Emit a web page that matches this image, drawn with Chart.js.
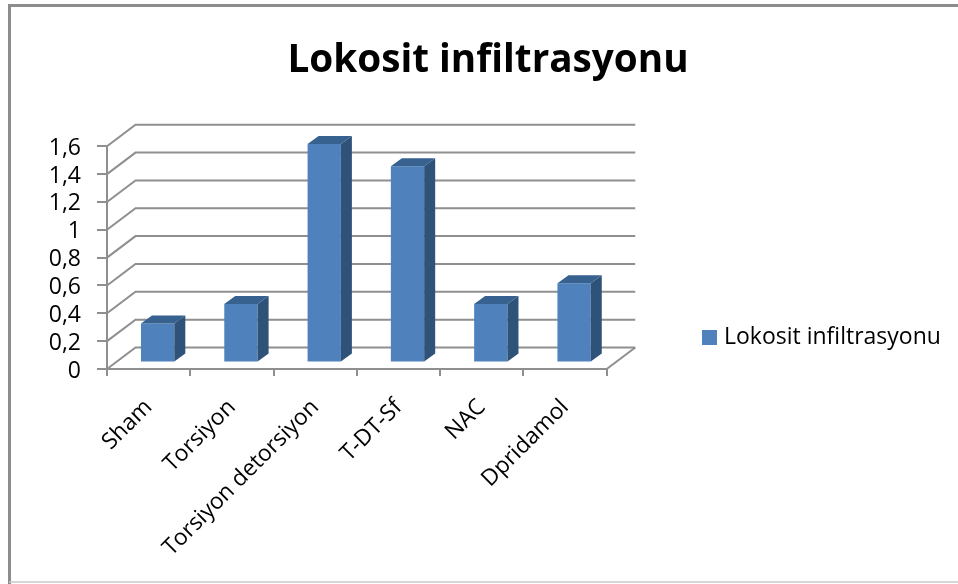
<!DOCTYPE html>
<html><head><meta charset="utf-8">
<style>html,body{margin:0;padding:0;background:#fff}canvas{display:block}</style>
<script src="https://cdn.jsdelivr.net/npm/chart.js@4"></script>
</head><body><canvas id="c" width="958" height="584"></canvas>
<script>
const categories = ["Sham","Torsiyon","Torsiyon detorsiyon","T-DT-Sf","NAC","Dpridamol"];
const values = [0.28,0.42,1.57,1.41,0.42,0.57];
const seriesName = "Lokosit infiltrasyonu";
const yTickValues = [0,0.2,0.4,0.6,0.8,1,1.2,1.4,1.6];
const yTickLabels = ["0","0,2","0,4","0,6","0,8","1","1,2","1,4","1,6"];
const GRID="#8f8f8f", FRONT="#4F81BD", SIDE="#2F5279", TOP="#37618F";
const WALL={dx:28.5,dy:21.5}, BAR={dx:9,dy:-6.5}, DEPTH={dx:11,dy:8};
const FONT="'Open Sans'";
const scene={
  id:'scene',
  beforeDraw(chart){
    const c=chart.ctx;
    c.save();c.strokeStyle="#8c8c8c";c.lineWidth=3;
    c.beginPath();c.moveTo(9.5,584);c.lineTo(9.5,5.5);c.lineTo(958,5.5);c.stroke();
    c.strokeStyle="#c8c8c8";c.lineWidth=1.5;
    c.beginPath();c.moveTo(9,582);c.lineTo(958,582);c.stroke();
    c.restore();
  },
  afterLayout(chart){
    const lg=chart.legend;
    if(lg){lg.left=700;lg.right=958;lg.top=319.5;lg.bottom=356;}
    const t=chart.titleBlock;
    if(t){t.left=18;t.right=958;}
  },
  beforeDatasetsDraw(chart){
    const c=chart.ctx,a=chart.chartArea,y=chart.scales.y;
    c.save();c.strokeStyle=GRID;c.lineWidth=2;c.lineJoin='miter';
    yTickValues.forEach(v=>{const p=y.getPixelForValue(v);
      c.beginPath();c.moveTo(a.left,p);c.lineTo(a.left+WALL.dx,p-WALL.dy);c.lineTo(a.right+WALL.dx,p-WALL.dy);c.stroke();});
    const b=y.getPixelForValue(0);
    c.beginPath();c.moveTo(a.right,b);c.lineTo(a.right+WALL.dx,b-WALL.dy);c.stroke();
    c.restore();
  },
  beforeDatasetDraw(chart){chart.ctx.save();chart.ctx.translate(BAR.dx,BAR.dy);},
  afterDatasetDraw(chart,args){
    const c=chart.ctx;
    chart.getDatasetMeta(args.index).data.forEach(e=>{
      const l=e.x-e.width/2,r=e.x+e.width/2;
      c.fillStyle=SIDE;c.beginPath();c.moveTo(r,e.y);c.lineTo(r+DEPTH.dx,e.y-DEPTH.dy);c.lineTo(r+DEPTH.dx,e.base-DEPTH.dy);c.lineTo(r,e.base);c.closePath();c.fill();
      c.fillStyle=TOP;c.beginPath();c.moveTo(l,e.y);c.lineTo(l+DEPTH.dx,e.y-DEPTH.dy);c.lineTo(r+DEPTH.dx,e.y-DEPTH.dy);c.lineTo(r,e.y);c.closePath();c.fill();
    });
    c.restore();
  }
};
new Chart(document.getElementById('c'),{
  type:'bar',
  data:{labels:categories,datasets:[{label:seriesName,data:values,backgroundColor:FRONT,borderWidth:0,categoryPercentage:1,barPercentage:0.4}]},
  plugins:[scene],
  options:{
    responsive:false,animation:false,
    layout:{padding:{left:18,right:155,top:0,bottom:0}},
    plugins:{
      tooltip:{enabled:false},
      title:{display:true,text:seriesName,color:"#000",font:{family:FONT,size:38.7,weight:'bold'},padding:{top:37.4,bottom:62.4}},
      legend:{position:'right',align:'start',labels:{color:"#000",font:{family:FONT,size:23},boxWidth:6,boxHeight:6,padding:6.5,
        generateLabels(chart){const items=Chart.defaults.plugins.legend.labels.generateLabels(chart);
          items.forEach(i=>{i.lineWidth=9;i.strokeStyle=FRONT;});return items;}}}
    },
    scales:{
      x:{
        offset:true,
        afterFit(s){s.height=215;},
        grid:{offset:true,drawOnChartArea:false,drawTicks:true,tickLength:7,color:GRID,lineWidth:2},
        border:{color:GRID,width:2},
        ticks:{color:"#000",font:{family:FONT,size:22.7},minRotation:45,maxRotation:45,autoSkip:false,labelOffset:0,padding:18}
      },
      y:{
        min:0,max:1.6,
        afterFit(s){s.width=89;},
        afterBuildTicks(s){s.ticks=yTickValues.map(v=>({value:v}));},
        grid:{drawOnChartArea:false,drawTicks:true,tickLength:10,color:GRID,lineWidth:2},
        border:{color:GRID,width:2},
        ticks:{color:"#000",font:{family:FONT,size:23},padding:16,autoSkip:false,labelOffset:2,callback:(v,i)=>yTickLabels[i]}
      }
    }
  }
});
</script></body></html>
